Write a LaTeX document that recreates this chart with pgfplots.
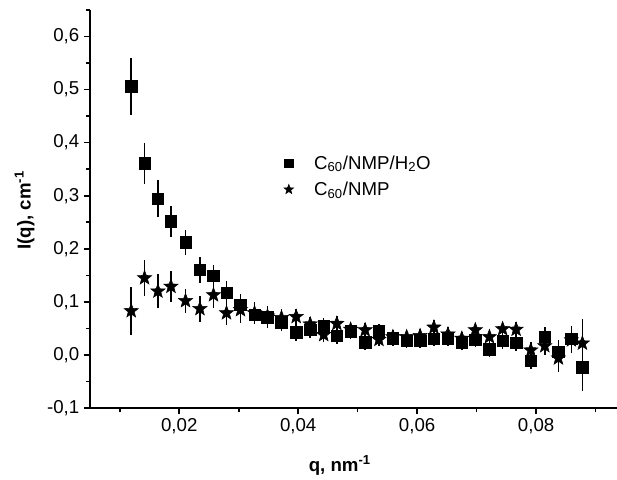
\documentclass[border=0pt]{standalone}
\usepackage{fontspec}
\setmainfont{Liberation Sans}
\usepackage{pgfplots}
\pgfplotsset{compat=1.18}

% filled five-point star
\pgfdeclareplotmark{fstar}{%
  \pgfpathmoveto{\pgfpointpolar{90}{\pgfplotmarksize}}%
  \pgfpathlineto{\pgfpointpolar{126}{0.42\pgfplotmarksize}}%
  \pgfpathlineto{\pgfpointpolar{162}{\pgfplotmarksize}}%
  \pgfpathlineto{\pgfpointpolar{198}{0.42\pgfplotmarksize}}%
  \pgfpathlineto{\pgfpointpolar{234}{\pgfplotmarksize}}%
  \pgfpathlineto{\pgfpointpolar{270}{0.42\pgfplotmarksize}}%
  \pgfpathlineto{\pgfpointpolar{306}{\pgfplotmarksize}}%
  \pgfpathlineto{\pgfpointpolar{342}{0.42\pgfplotmarksize}}%
  \pgfpathlineto{\pgfpointpolar{18}{\pgfplotmarksize}}%
  \pgfpathlineto{\pgfpointpolar{54}{0.42\pgfplotmarksize}}%
  \pgfpathclose
  \pgfusepathqfillstroke
}

\pgfplotstableread{
x        y       ey
0.01193  0.506   0.053
0.01417  0.361   0.038
0.01642  0.294   0.035
0.01861  0.252   0.029
0.02106  0.212   0.024
0.02348  0.160   0.024
0.02576  0.149   0.021
0.02795  0.117   0.022
0.03030  0.095   0.019
0.03266  0.076   0.017
0.03484  0.071   0.020
0.03719  0.062   0.017
0.03966  0.043   0.016
0.04202  0.047   0.016
0.04429  0.054   0.015
0.04650  0.036   0.015
0.04882  0.045   0.015
0.05126  0.024   0.014
0.05358  0.045   0.014
0.05592  0.031   0.014
0.05824  0.027   0.014
0.06050  0.027   0.014
0.06282  0.030   0.014
0.06518  0.030   0.014
0.06751  0.024   0.014
0.06978  0.029   0.014
0.07215  0.011   0.015
0.07437  0.027   0.015
0.07664  0.023   0.015
0.07911  -0.011  0.016
0.08146  0.034   0.019
0.08375  0.006   0.022
0.08593  0.030   0.024
0.08778  -0.023  0.045
}\sqdata

\pgfplotstableread{
x        y       ey
0.01193  0.083   0.045
0.01417  0.145   0.034
0.01642  0.120   0.032
0.01861  0.129   0.029
0.02106  0.102   0.023
0.02348  0.087   0.025
0.02576  0.113   0.025
0.02795  0.079   0.023
0.03030  0.085   0.024
0.03266  0.079   0.020
0.03484  0.073   0.019
0.03719  0.070   0.017
0.03966  0.072   0.015
0.04202  0.058   0.014
0.04429  0.038   0.014
0.04650  0.059   0.014
0.04882  0.048   0.013
0.05126  0.047   0.013
0.05358  0.029   0.013
0.05592  0.034   0.013
0.05824  0.034   0.013
0.06050  0.036   0.013
0.06282  0.052   0.013
0.06518  0.039   0.013
0.06751  0.031   0.013
0.06978  0.047   0.013
0.07215  0.034   0.014
0.07437  0.049   0.014
0.07664  0.048   0.014
0.07911  0.009   0.015
0.08146  0.017   0.017
0.08375  -0.006  0.027
0.08593  0.028   0.025
0.08778  0.022   0.045
}\stdata

\begin{document}
\begin{tikzpicture}
\useasboundingbox (-67.5pt,-53.25pt) rectangle (395.25pt,306pt);
\begin{axis}[
  at={(0,0)}, anchor=south west,
  scale only axis, width=395.25pt, height=298.5pt,
  xmin=0.005, xmax=0.0936, ymin=-0.1, ymax=0.65,
  axis x line*=bottom, axis y line*=left,
  axis line style={line width=1.5pt},
  tick align=outside,
  major tick length=4.5pt, minor tick length=3pt,
  tick style={line width=1.2pt, black},
  xtick={0.02,0.04,0.06,0.08},
  minor xtick={0.01,0.03,0.05,0.07,0.09},
  ytick={-0.1,0,0.1,0.2,0.3,0.4,0.5,0.6},
  minor ytick={-0.05,0.05,0.15,0.25,0.35,0.45,0.55,0.65},
  scaled ticks=false,
  /pgf/number format/assume math mode=true,
  tick label style={font=\fontsize{14}{16}\selectfont},
  xticklabel style={/pgf/number format/.cd, fixed, fixed zerofill, precision=2, use comma},
  yticklabel style={/pgf/number format/.cd, fixed, fixed zerofill, precision=1, use comma},
  xlabel={\textbf{q, nm\textsuperscript{-1}}},
  ylabel={\textbf{I(q), cm\textsuperscript{-1}}},
  label style={font=\fontsize{14}{16}\selectfont},
  xlabel style={at={(rel axis cs:0.474,-0.145)}, anchor=center},
  ylabel style={at={(rel axis cs:-0.124,0.497)}, anchor=center},
  clip=false,
  legend style={at={(rel axis cs:0.36,0.582)}, anchor=west, draw=none, fill=none,
    font=\fontsize{14}{16}\selectfont, row sep=4pt},
  legend cell align=left,
  legend image code/.code={\path[draw=none] (0cm,0cm) -- (0.72cm,0cm);
    \draw[#1] plot coordinates {(0.12cm,0cm)};},
]
\addplot[only marks, mark=square*, mark size=4.3pt, black,
  legend image post style={mark size=3.1pt},
  error bars/.cd, y dir=both, y explicit, error mark=none,
  error bar style={line width=1.1pt, black}]
  table[x=x, y=y, y error=ey] {\sqdata};
\addlegendentry{C\textsubscript{60}/NMP/H\textsubscript{2}O}
\addplot[only marks, mark=fstar, mark size=5.6pt, black,
  legend image post style={mark size=3.8pt},
  error bars/.cd, y dir=both, y explicit, error mark=none,
  error bar style={line width=1.1pt, black}]
  table[x=x, y=y, y error=ey] {\stdata};
\addlegendentry{C\textsubscript{60}/NMP}
\end{axis}
\end{tikzpicture}
\end{document}
